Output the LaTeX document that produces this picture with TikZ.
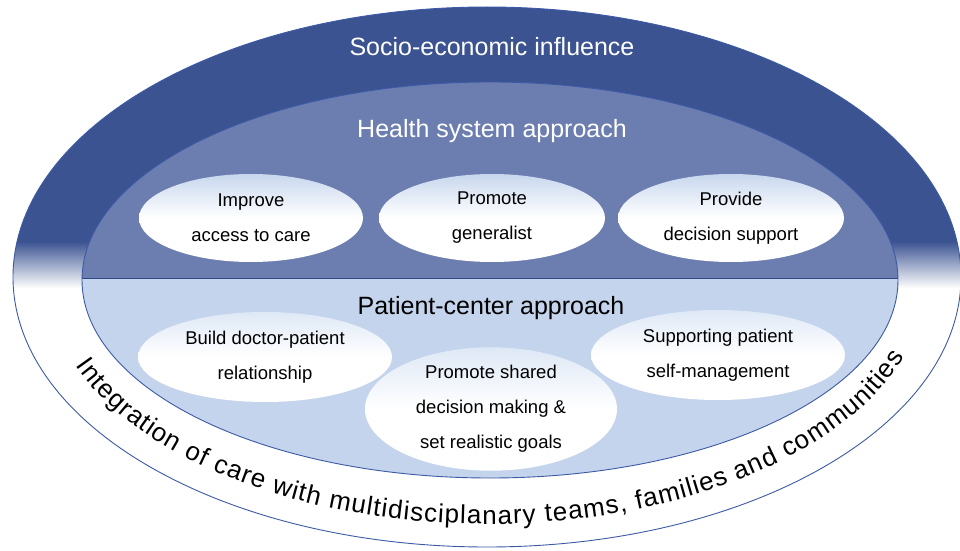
\documentclass[tikz,border=0pt]{standalone}
\usepackage{fontspec}
\setmainfont{Liberation Sans}
\usetikzlibrary{shapes.geometric,decorations.text}
\definecolor{darkband}{RGB}{59,83,145}
\definecolor{midband}{RGB}{108,125,176}
\definecolor{lightband}{RGB}{196,212,236}
\definecolor{rimline}{RGB}{60,90,165}
\definecolor{bubbletop}{RGB}{200,215,238}
\definecolor{bubbletopb}{RGB}{222,232,246}
\newcommand{\curvefont}{\fontsize{26}{30}\selectfont}
\tikzset{
  bubble/.style={ellipse, draw=none, align=center, text=black,
    font=\fontsize{18.5}{35}\selectfont, inner sep=0pt,
    top color=bubbletop, bottom color=white, middle color=white},
  bubbleb/.style={ellipse, draw=none, align=center, text=black,
    font=\fontsize{18.5}{35}\selectfont, inner sep=0pt,
    top color=bubbletopb, bottom color=white, middle color=white},
  bigtitle/.style={font=\fontsize{25}{30}\selectfont, inner sep=0pt},
  rim/.style={draw=rimline, line width=0.9pt},
}
\begin{document}
\begin{tikzpicture}[x=1pt,y=1pt]
\useasboundingbox (0,0) rectangle (960,550);
% outer ellipse
\fill[white] (487,273) ellipse [x radius=474pt, y radius=270pt];
\begin{scope}
  \clip (487,273) ellipse [x radius=474pt, y radius=270pt];
  \fill[darkband] (0,308) rectangle (960,550);
  \shade[top color=darkband, bottom color=white] (0,262) rectangle (960,308.5);
\end{scope}
\draw[rim] (487,273) ellipse [x radius=474pt, y radius=270pt];
% inner ellipse
\begin{scope}
  \clip (490,270) ellipse [x radius=408pt, y radius=198pt];
  \fill[midband] (0,272) rectangle (960,550);
  \fill[lightband] (0,0) rectangle (960,272);
  \draw[rimline!80!black, line width=0.8pt] (0,272) -- (960,272);
\end{scope}
\draw[rim] (490,270) ellipse [x radius=408pt, y radius=198pt];
% titles
\node[bigtitle, text=white] (socio) at (492,503) {Socio-economic influence};
\node[bigtitle, text=white] (health) at (492,419) {Health system approach};
\node[bigtitle, text=black] (patient) at (491,242) {Patient-center approach};
% health system bubbles
\node[bubble, minimum width=224pt, minimum height=88pt] (access) at (251,332) {Improve\\access to care};
\node[bubble, minimum width=226pt, minimum height=88pt] (general) at (492,332) {Promote\\generalist};
\node[bubble, minimum width=226pt, minimum height=88pt] (decision) at (731,332) {Provide\\decision support};
% patient-centre bubbles
\node[bubbleb, minimum width=254pt, minimum height=90pt] (relation) at (265,193) {Build doctor-patient\\relationship};
\node[bubbleb, minimum width=252pt, minimum height=108pt] (shared) at (491,141) {Promote shared\\decision making \&\\set realistic goals};
\node[bubbleb, minimum width=254pt, minimum height=90pt] (selfman) at (718,195) {Supporting patient\\self-management};
% curved text
\path[decorate, decoration={text along path, text align={fit to path},
  text={|\curvefont|Integration of care with multidisciplanary teams, families and communities}}]
  (487,273) ++(201:441pt and 247pt) arc[start angle=201, end angle=341, x radius=441pt, y radius=247pt];
\end{tikzpicture}
\end{document}
